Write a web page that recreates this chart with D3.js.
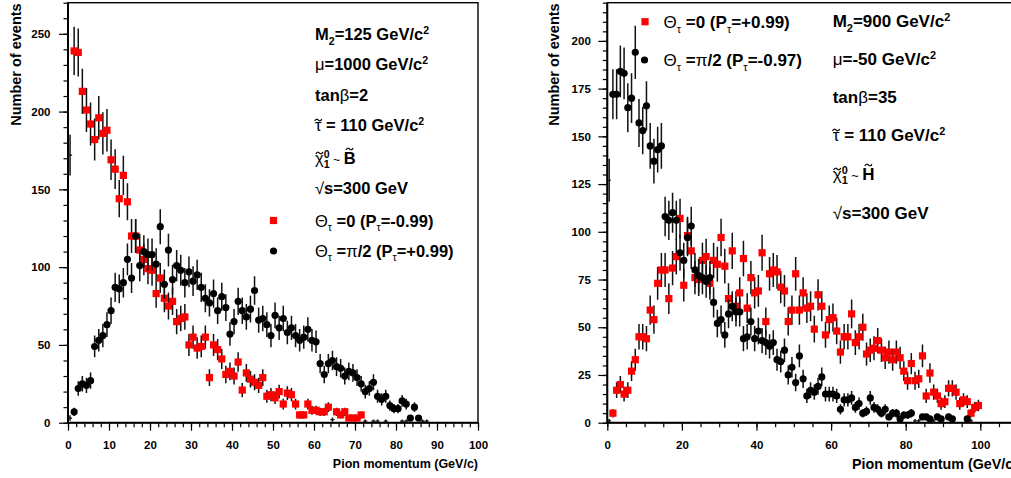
<!DOCTYPE html>
<html><head><meta charset="utf-8">
<script src="https://cdn.jsdelivr.net/npm/d3@7"></script>
<style>
body{margin:0;background:#fff}
svg{display:block}
text{font-family:"Liberation Sans",Arial,Helvetica,sans-serif;font-weight:bold;fill:#000}
</style>
</head><body>
<svg id="c" width="1011" height="478"></svg>
<script>
// ---------------- DATA ----------------
// Left panel (M2=125, mu=1000, tanb=2)
const leftRedX = [0.5,1.5,2.5,3.5,4.5,5.5,6.5,7.5,8.5,9.5,10.5,11.5,12.5,13.5,14.5,15.5,16.5,17.5,18.5,19.5,20.5,
  21.5,22.5,23.5,24.5,25.5,26.5,27.5,28.5,29.5,30.5,31.5,32.5,33.5,34.5,35.5,36.5,37.5,38.5,39.5,40.5,
  41.5,42.5,43.5,44.5,45.5,46.5,47.5,48.5,49.5,50.5,51.5,52.5,53.5,54.5,55.5,56.5,57.5,58.5,59.5,60.5,
  61.5,62.5,63.5,64.5,65.5,66.5,67.5,68.5,69.5,70.5,71.5,72.5,74.5,75.5,77.5,81.5,82.5];
const leftRedY = [172,239,238,213,201,192,182,196,186,188,169,
  163,144,159,142,120,120,111,105,99,98,
  83,93,80,75,78,65,67,68,50,55,
  48,49,55,29,50,47,41,31,33,30,
  39,21,32,28,26,24,29,17,18,16,
  20,12,19,18,12,5,5,12,8,8,
  7,7,10,2,7,5,7,3,3,3,5,1,1,1,1,1,1];
const leftBlackX = [0.5,1.5,2.5,3.5,4.5,5.5,6.5,7.5,8.5,9.5,10.5,11.5,12.5,13.5,14.5,15.5,16.5,17.5,18.5,19.5,20.5,
  21.5,22.5,23.5,24.5,25.5,26.5,27.5,28.5,29.5,30.5,31.5,32.5,33.5,34.5,35.5,36.5,37.5,38.5,39.5,40.5,
  41.5,42.5,43.5,44.5,45.5,46.5,47.5,48.5,49.5,50.5,51.5,52.5,53.5,54.5,55.5,56.5,57.5,58.5,59.5,60.5,
  61.5,62.5,63.5,64.5,65.5,66.5,67.5,68.5,69.5,70.5,71.5,72.5,73.5,74.5,75.5,76.5,77.5,78.5,79.5,80.5,
  81.5,82.5,83.5,84.5,85.5,86.5,87.5];
const leftBlackY = [3,7,22,25,24,27,49,53,56,63,72,
  87,86,90,105,93,120,101,110,108,108,
  102,126,89,111,92,101,98,90,97,91,
  95,87,80,77,83,72,81,74,57,65,
  78,72,68,73,85,66,67,63,56,69,
  61,67,58,61,56,53,55,60,53,52,
  38,31,38,40,36,35,30,33,32,29,
  25,20,22,26,17,15,17,11,9,9,
  14,12,3,10,3,1,1];
// Right panel (M2=900, mu=-50, tanb=35)
const rightRedX = [0.5,1.5,2.5,3.5,4.5,5.5,6.5,7.5,8.5,9.5,10.5,11.5,12.5,13.5,14.5,15.5,16.5,17.5,18.5,19.5,20.5,
  21.5,22.5,23.5,24.5,25.5,26.5,27.5,28.5,29.5,30.5,31.5,32.5,33.5,34.5,35.5,36.5,37.5,38.5,39.5,40.5,
  41.5,42.5,43.5,44.5,45.5,46.5,47.5,48.5,49.5,50.5,51.5,52.5,53.5,54.5,55.5,56.5,57.5,58.5,59.5,60.5,
  61.5,62.5,63.5,64.5,65.5,66.5,67.5,68.5,69.5,70.5,71.5,72.5,73.5,74.5,75.5,76.5,77.5,78.5,79.5,80.5,
  81.5,82.5,83.5,84.5,85.5,86.5,87.5,88.5,89.5,90.5,91.5,92.5,93.5,94.5,95.5,96.5,97.5,98.5,99.5];
const rightRedY = [1,5,17,20,15,17,27,33,45,45,44,
  59,54,73,80,80,65,81,87,107,72,
  98,90,76,75,85,87,73,85,83,97,
  82,65,90,61,68,86,60,76,68,69,
  89,53,78,80,79,71,69,53,59,78,
  59,68,60,61,49,67,61,46,54,55,
  48,37,45,45,57,42,45,50,36,38,
  39,43,38,34,37,33,37,34,27,22,
  31,22,23,35,14,26,16,14,10,11,
  18,18,16,10,12,11,5,8,9];
const rightBlackX = [0.5,1.5,2.5,3.5,4.5,5.5,6.5,7.5,8.5,9.5,10.5,11.5,12.5,13.5,14.5,15.5,16.5,17.5,18.5,19.5,20.5,
  21.5,22.5,23.5,24.5,25.5,26.5,27.5,28.5,29.5,30.5,31.5,32.5,33.5,34.5,35.5,36.5,37.5,38.5,39.5,40.5,
  41.5,42.5,43.5,44.5,45.5,46.5,47.5,48.5,49.5,50.5,51.5,52.5,53.5,54.5,55.5,56.5,57.5,58.5,59.5,60.5,
  61.5,62.5,63.5,64.5,65.5,66.5,67.5,68.5,69.5,70.5,71.5,72.5,73.5,74.5,75.5,76.5,77.5,78.5,79.5,80.5,
  81.5,82.5,83.5,84.5,85.5,86.5,87.5,88.5,89.5,91.5,92.5,96.5,97.5];
const rightBlackY = [127,172,172,184,183,165,170,194,157,153,166,
  145,137,143,145,108,106,110,106,89,85,
  97,103,80,77,76,74,76,63,52,54,
  46,57,61,58,58,44,45,53,44,48,
  43,42,40,42,33,32,38,25,29,21,
  35,23,14,17,16,19,24,15,15,15,
  14,7,12,12,13,8,10,5,6,13,
  8,7,5,7,3,5,5,2,4,4,
  5,1,1,3,3,2,1,3,2,3,2,2,1];

// tick labels
const leftXTicks = [0,10,20,30,40,50,60,70,80,90,100];
const leftYTicks = [0,50,100,150,200,250];
const rightXTicks = [0,20,40,60,80,100];
const rightYTicks = [0,25,50,75,100,125,150,175,200];

// texts
const yTitle = "Number of events";
const xTitle = "Pion momentum (GeV/c)";
const leftInfo = [
  [{t:"M"},{t:"2",sub:1},{t:"=125 GeV/c"},{t:"2",sup:1}],
  [{t:"μ",g:1},{t:"=1000 GeV/c"},{t:"2",sup:1}],
  [{t:"tan"},{t:"β",g:1},{t:"=2"}],
  [{t:"τ",g:1,tilde:11},{t:" = 110 GeV/c"},{t:"2",sup:1}],
  [{t:"χ",g:1,tilde:11},{t:"0",sup:1},{t:"1",sub:1,stack:1},{t:" ~ ",g:1,sm:1},{t:"B",tilde:15}],
  [{t:"√",g:1},{t:"s=300 GeV"}]
];
const leftLegend = [
  [{t:"Θ",g:1},{t:"τ",sub:1,g:1},{t:" =0 (P"},{t:"τ",sub:1,g:1},{t:"=-0.99)"}],
  [{t:"Θ",g:1},{t:"τ",sub:1,g:1},{t:" ="},{t:"π",g:1},{t:"/2 (P"},{t:"τ",sub:1,g:1},{t:"=+0.99)"}]
];
const rightInfo = [
  [{t:"M"},{t:"2",sub:1},{t:"=900 GeV/c"},{t:"2",sup:1}],
  [{t:"μ",g:1},{t:"=-50 GeV/c"},{t:"2",sup:1}],
  [{t:"tan"},{t:"β",g:1},{t:"=35"}],
  [{t:"τ",g:1,tilde:11},{t:" = 110 GeV/c"},{t:"2",sup:1}],
  [{t:"χ",g:1,tilde:11},{t:"0",sup:1},{t:"1",sub:1,stack:1},{t:" ~ ",g:1,sm:1},{t:"H",tilde:15}],
  [{t:"√",g:1},{t:"s=300 GeV"}]
];
const rightLegend = [
  [{t:"Θ",g:1},{t:"τ",sub:1,g:1},{t:" =0 (P"},{t:"τ",sub:1,g:1},{t:"=+0.99)"}],
  [{t:"Θ",g:1},{t:"τ",sub:1,g:1},{t:" ="},{t:"π",g:1},{t:"/2 (P"},{t:"τ",sub:1,g:1},{t:"=-0.97)"}]
];

// ---------------- DRAWING ----------------
const svg = d3.select("#c");
const RED = "#ff0000", INK = "#000";

function rich(g, x, y, segs, fs) {
  const t = g.append("text").attr("x", x).attr("y", y).style("font-size", fs + "px");
  const nodes = [];
  segs.forEach(s => {
    const ts = t.append("tspan").text(s.t);
    let size = fs;
    if (s.sub || s.sup) size = fs * 0.64;
    if (s.sm) size = fs * 0.75;
    ts.style("font-size", size + "px");
    let off = 0;
    if (s.sub) off = fs * 0.3;
    if (s.sup) off = -fs * 0.35;
    if (s.stack) off = fs * 0.26;
    ts.attr("y", y + off);
    if (s.g) ts.style("font-weight", "normal");
    if (s.stack) {
      const prev = nodes[nodes.length - 1].node();
      ts.attr("dx", -prev.getComputedTextLength());
    }
    nodes.push(ts);
  });
  // tilde accents drawn as small strokes
  segs.forEach((s, i) => {
    if (!s.tilde) return;
    const n = nodes[i].node();
    const sx = n.getStartPositionOfChar(0).x;
    const w = n.getComputedTextLength();
    const cx = sx + w / 2, hy = y - s.tilde, hw = 3.6;
    g.append("path")
      .attr("d", `M${cx - hw},${hy + 0.9} C${cx - hw * 0.55},${hy - 1.9} ${cx - hw * 0.25},${hy - 0.6} ${cx},${hy} S${cx + hw * 0.55},${hy + 1.9} ${cx + hw},${hy - 0.9}`)
      .attr("fill", "none").attr("stroke", INK).attr("stroke-width", 1.1);
  });
  return t;
}

function drawPanel(p) {
  const g = svg.append("g");
  const x = d3.scaleLinear().domain(p.xDomain).range([p.x0, p.x1]);
  const y = d3.scaleLinear().domain(p.yDomain).range([p.y0, p.y1]);
  const clipId = "clip" + p.id;
  svg.append("clipPath").attr("id", clipId).append("rect")
    .attr("x", p.x0).attr("y", p.y1).attr("width", p.x1 - p.x0).attr("height", p.y0 - p.y1);

  const styleAx = sel => { sel.select(".domain").remove(); sel.selectAll("line").attr("stroke", INK).attr("stroke-width", 1.2);
    sel.selectAll("text").style("font-size", p.tickFs + "px").style("font-family", null).attr("fill", INK); };
  g.append("g").attr("transform", `translate(${p.x0},0)`)
    .call(d3.axisLeft(y).tickValues(d3.range(0, p.yDomain[1] + 0.01, p.yMinorStep)).tickSize(4.5).tickFormat(""))
    .call(styleAx);
  g.append("g").attr("transform", `translate(${p.x0},0)`)
    .call(d3.axisLeft(y).tickValues(p.yTicks).tickSize(9).tickPadding(p.yPad).tickFormat(d3.format("d")))
    .call(styleAx);
  g.append("g").attr("transform", `translate(0,${p.y0})`)
    .call(d3.axisBottom(x).tickValues(d3.range(0, p.xDomain[1] + 0.01, p.xMinorStep)).tickSize(4.5).tickFormat(""))
    .call(styleAx);
  g.append("g").attr("transform", `translate(0,${p.y0})`)
    .call(d3.axisBottom(x).tickValues(p.xTicks).tickSize(8).tickPadding(10).tickFormat(d3.format("d")))
    .call(styleAx);

  // frame
  g.append("rect").attr("x", p.x0).attr("y", p.y1).attr("width", p.x1 - p.x0).attr("height", p.y0 - p.y1)
    .attr("fill", "none").attr("stroke", INK).attr("stroke-width", 1.4);
  g.append("line").attr("x1", p.x0).attr("x2", p.x1).attr("y1", p.y0).attr("y2", p.y0).attr("stroke", INK).attr("stroke-width", 2);
  g.append("line").attr("x1", p.x0).attr("x2", p.x0).attr("y1", p.y1).attr("y2", p.y0).attr("stroke", INK).attr("stroke-width", 2);

  // titles
  g.append("text").attr("transform", `translate(${p.yTitleX},${p.y1 + 0.6}) rotate(-90)`)
    .attr("text-anchor", "end").style("font-size", "14.5px").text(yTitle);
  g.append("text").attr("x", p.xTitleEnd).attr("y", p.xTitleY).attr("text-anchor", "end")
    .style("font-size", p.xTitleFs + "px").text(xTitle);

  // series
  const half = 3.6;
  function series(xs, ys, kind) {
    const pts = xs.map((d, i) => ({ x: d, v: ys[i] }));
    const eg = g.append("g").attr("clip-path", `url(#${clipId})`);
    eg.selectAll(null).data(pts).join("line")
      .attr("x1", d => x(d.x)).attr("x2", d => x(d.x))
      .attr("y1", d => y(d.v + Math.sqrt(d.v))).attr("y2", d => y(Math.max(0, d.v - Math.sqrt(d.v))))
      .attr("stroke", "#111").attr("stroke-width", 1.5);
    eg.selectAll(null).data(pts).join("line")
      .attr("x1", d => x(d.x - 0.5)).attr("x2", d => x(d.x + 0.5))
      .attr("y1", d => y(d.v)).attr("y2", d => y(d.v))
      .attr("stroke", "#111").attr("stroke-width", 1.2);
    const vis = pts.filter(d => x(d.x) - half >= p.x0 && y(d.v) + half <= p.y0 + 0.01);
    if (kind === "sq") {
      g.selectAll(null).data(vis).join("rect")
        .attr("x", d => x(d.x) - half).attr("y", d => y(d.v) - half)
        .attr("width", half * 2).attr("height", half * 2).attr("fill", RED);
    } else {
      g.selectAll(null).data(vis).join("circle")
        .attr("cx", d => x(d.x)).attr("cy", d => y(d.v)).attr("r", half).attr("fill", INK);
    }
  }
  series(p.redX, p.redY, "sq");
  series(p.blackX, p.blackY, "ci");

  // info texts and legend
  p.info.forEach((segs, i) => rich(g, p.infoX, p.infoY[i], segs, p.fs));
  p.legend.forEach((segs, i) => rich(g, p.legX, p.legY[i], segs, p.fs));
  g.append("rect").attr("x", p.legMark[0][0] - half).attr("y", p.legMark[0][1] - half)
    .attr("width", half * 2).attr("height", half * 2).attr("fill", RED);
  g.append("circle").attr("cx", p.legMark[1][0]).attr("cy", p.legMark[1][1]).attr("r", half).attr("fill", INK);
}

drawPanel({
  id: "L", x0: 68, x1: 478, xDomain: [0, 100], y0: 422.7, y1: 2.7, yDomain: [0, 270],
  xTicks: leftXTicks, yTicks: leftYTicks, xMinorStep: 2, yMinorStep: 10, yPad: 8.5, tickFs: 11.5,
  yTitleX: 20.7, xTitleEnd: 478, xTitleY: 467.5, xTitleFs: 12.5,
  redX: leftRedX, redY: leftRedY, blackX: leftBlackX, blackY: leftBlackY,
  info: leftInfo, infoX: 315, infoY: [40, 70, 101, 131, 164, 194], fs: 16.5,
  legend: leftLegend, legX: 315, legY: [226.5, 256.5], legMark: [[273.5, 220.5], [273.5, 251]]
});
drawPanel({
  id: "R", x0: 607.3, x1: 607.3 + 110 * 3.73, xDomain: [0, 110], y0: 422.7, y1: 2.7, yDomain: [0, 220],
  xTicks: rightXTicks, yTicks: rightYTicks, xMinorStep: 5, yMinorStep: 5, yPad: 7.5, tickFs: 11.5,
  yTitleX: 559.3, xTitleEnd: 1018, xTitleY: 469, xTitleFs: 14.3,
  redX: rightRedX, redY: rightRedY, blackX: rightBlackX, blackY: rightBlackY,
  info: rightInfo, infoX: 832.7, infoY: [26.5, 64.5, 102.5, 141, 180, 219], fs: 17,
  legend: rightLegend, legX: 663.5, legY: [27.5, 66], legMark: [[645, 21.7], [644.5, 60]]
});
</script>
</body></html>
